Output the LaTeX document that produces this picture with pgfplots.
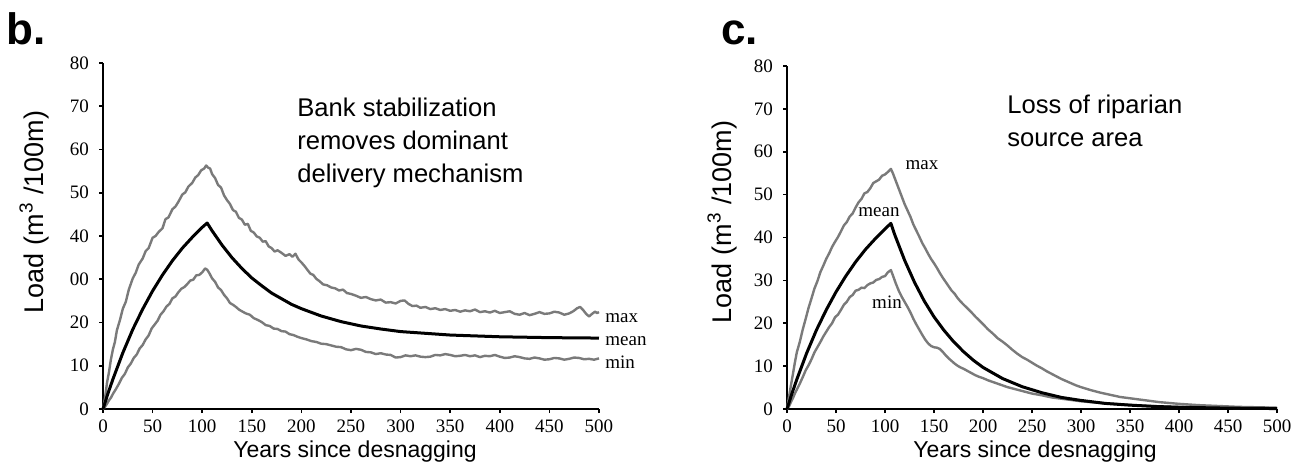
\documentclass[border=0pt]{standalone}
\usepackage{fontspec}
\setmainfont{Liberation Sans}
\newfontfamily\serif{Liberation Serif}
\usepackage{pgfplots}
\pgfplotsset{compat=1.18}
\definecolor{ln}{RGB}{122,122,122}

\pgfplotsset{
  panel/.style={
    scale only axis,
    axis lines=left,
    axis line style={line width=1.2pt,-},
    xmin=0, xmax=500, ymin=0, ymax=80,
    xtick={0,50,...,500}, ytick={0,10,...,80},
    tick align=outside, major tick length=2pt,
    tick style={line width=0.8pt,black},
    ticklabel style={font=\serif\fontsize{9.5}{10}\selectfont},
    yticklabel style={xshift=-1.5pt},
    /pgf/number format/assume math mode=true,
    clip=false,
  },
  band/.style={ln, line width=1.2pt, line join=round},
  avg/.style={black, line width=1.5pt, line join=round},
}

\begin{document}
\begin{tikzpicture}
\useasboundingbox (0,0) rectangle (653pt,-235pt);

% panel b
\begin{axis}[panel, width=248pt, height=173pt, at={(51.5pt,-204.5pt)}, anchor=south west,
  yticklabels={\raisebox{-4pt}{0},10,20,00,40,50,60,70,80}]
\addplot[band] coordinates {(0,0)(2,2.5)(4,6)(6,8.5)(8,11.5)(10,13.8)(12,15.5)(14,18.2)(17,20.5)(20,23.2)(23,24.8)(26,27.6)(30,30.2)(33,31.5)(36,33.4)(40,34.8)(43,36.5)(46,37.2)(50,39.6)(53,40.0)(56,40.9)(60,41.8)(63,43.9)(66,44.3)(70,46.2)(73,46.8)(76,47.9)(80,49.6)(83,50.1)(86,51.4)(90,52.3)(93,53.5)(96,54.1)(99,55.2)(102,55.6)(104,56.3)(106,55.8)(108,55.6)(110,54.3)(113,53.4)(116,51.8)(119,51.2)(122,49.4)(125,48.3)(128,47.4)(131,46.0)(134,45.6)(137,44.2)(140,43.8)(143,42.6)(146,42.8)(149,41.2)(152,40.8)(155,39.9)(158,39.6)(161,38.7)(164,38.8)(167,37.6)(170,37.2)(173,36.4)(176,36.7)(180,36.1)(184,35.4)(188,35.8)(191,35.2)(194,35.9)(197,34.6)(200,33.9)(203,33.1)(206,32.2)(209,31.3)(212,31.0)(215,30.1)(218,29.6)(222,28.8)(226,28.6)(230,28.1)(234,27.9)(238,27.4)(242,27.6)(246,26.8)(250,26.6)(255,26.2)(260,25.7)(265,25.9)(270,25.4)(275,25.1)(280,25.3)(285,24.6)(290,24.7)(295,24.4)(300,25.0)(304,25.1)(308,24.3)(312,23.8)(316,23.9)(320,23.4)(325,23.6)(330,23.1)(335,23.3)(340,22.9)(345,23.1)(350,22.7)(355,22.9)(360,22.5)(365,22.8)(370,22.6)(375,23.0)(380,22.4)(385,22.6)(390,22.3)(395,22.7)(400,22.2)(405,22.4)(410,22.6)(415,22.0)(420,21.8)(425,22.2)(430,21.7)(435,22.0)(440,22.4)(445,22.0)(450,22.1)(455,22.5)(460,22.3)(465,21.8)(470,22.1)(474,22.6)(478,23.3)(481,23.6)(484,22.9)(487,22.0)(490,21.4)(493,22.0)(496,22.5)(498,22.2)(500,22.4)};
\addplot[band] coordinates {(0,0)(2,0.5)(4,1.2)(6,2.0)(8,2.6)(10,3.5)(13,4.6)(16,5.8)(19,7.2)(22,8.1)(25,9.6)(28,10.5)(31,11.8)(34,12.6)(37,14.0)(40,14.8)(43,16.1)(46,17.0)(49,18.6)(52,19.5)(55,20.4)(58,21.8)(61,22.6)(64,23.7)(67,24.3)(70,25.6)(73,26.0)(76,27.0)(79,27.8)(82,28.2)(85,28.9)(88,29.7)(91,29.9)(94,30.9)(97,31.0)(100,31.6)(103,32.5)(105,32.2)(107,31.5)(110,30.2)(113,29.4)(116,28.1)(119,27.5)(122,26.4)(125,25.6)(128,24.5)(131,24.1)(134,23.6)(137,23.0)(140,22.6)(144,22.1)(148,21.8)(152,21.0)(156,20.6)(160,20.1)(164,19.4)(168,19.2)(172,18.6)(176,18.5)(180,18.0)(184,17.9)(188,17.3)(192,17.1)(196,16.7)(200,16.4)(205,16.1)(210,15.7)(215,15.5)(220,15.1)(225,15.0)(230,14.7)(235,14.4)(240,14.3)(245,13.8)(250,13.6)(255,13.9)(260,13.7)(265,13.2)(270,13.1)(275,12.7)(280,12.9)(285,12.6)(290,12.5)(295,11.9)(300,12.0)(305,12.4)(310,12.2)(315,12.4)(320,12.1)(325,12.0)(330,12.1)(335,12.5)(340,12.4)(345,12.7)(350,12.5)(355,12.2)(360,12.3)(365,12.5)(370,12.2)(375,12.4)(380,12.0)(385,12.3)(390,12.2)(395,12.5)(400,12.1)(405,11.8)(410,11.9)(415,12.2)(420,12.0)(425,11.7)(430,11.6)(435,11.9)(440,11.7)(445,11.4)(450,11.5)(455,11.8)(460,11.7)(465,11.4)(470,11.6)(475,11.9)(480,11.8)(485,11.5)(490,11.6)(495,11.4)(500,11.7)};
\addplot[avg] coordinates {(0,0)(5,3.6)(10,6.9)(20,13.0)(30,18.4)(40,23.1)(50,27.3)(60,31.0)(70,34.3)(80,37.2)(90,39.7)(100,42.0)(105,43.0)(110,41.2)(120,37.9)(130,35.0)(140,32.5)(150,30.3)(160,28.5)(170,26.8)(180,25.5)(190,24.2)(200,23.2)(220,21.5)(240,20.2)(260,19.2)(280,18.5)(300,17.9)(325,17.5)(350,17.1)(375,16.9)(400,16.7)(450,16.5)(500,16.4)};
\end{axis}

% panel c
\begin{axis}[panel, width=245pt, height=171.5pt, at={(393.5pt,-204.5pt)}, anchor=south west]
\addplot[band] coordinates {(0,0)(2,2.8)(4,5.5)(6,8.1)(8,10.8)(10,13.2)(13,15.6)(16,18.5)(19,21.0)(22,23.6)(25,25.8)(28,28.1)(31,29.8)(34,31.9)(37,33.4)(40,35.0)(43,36.3)(46,37.8)(49,39.0)(52,40.1)(55,41.4)(58,42.8)(61,43.6)(64,44.9)(67,45.6)(70,47.0)(73,48.2)(76,49.0)(79,50.3)(82,50.6)(85,51.5)(88,52.7)(91,53.1)(94,53.5)(97,54.4)(100,54.7)(103,55.3)(106,56.0)(108,55.0)(111,53.2)(114,51.4)(117,49.6)(120,47.8)(123,46.3)(126,44.8)(129,43.0)(132,41.6)(135,40.2)(138,38.7)(141,37.5)(144,36.2)(147,35.0)(150,34.0)(153,32.9)(156,31.7)(159,30.6)(162,29.6)(165,28.6)(168,27.6)(171,26.9)(174,25.9)(177,25.1)(180,24.4)(184,23.5)(188,22.6)(192,21.6)(196,20.7)(200,19.8)(205,18.6)(210,17.6)(215,16.5)(220,15.7)(225,14.8)(230,13.8)(235,12.9)(240,12.1)(245,11.5)(250,10.8)(255,10.1)(260,9.5)(265,8.8)(270,8.2)(275,7.6)(280,7.0)(285,6.5)(290,6.0)(295,5.5)(300,5.1)(310,4.4)(320,3.8)(330,3.3)(340,2.8)(350,2.5)(360,2.2)(370,1.9)(380,1.6)(390,1.4)(400,1.2)(420,0.9)(440,0.7)(460,0.5)(480,0.4)(500,0.3)};
\addplot[band] coordinates {(0,0)(2,0.6)(4,1.6)(6,2.5)(8,3.6)(10,4.5)(13,5.9)(16,7.4)(19,9.0)(22,10.2)(25,11.6)(28,13.2)(31,14.4)(34,15.6)(37,16.9)(40,18.0)(43,19.1)(46,20.0)(49,21.4)(52,22.0)(55,23.1)(58,24.3)(61,25.0)(64,26.1)(67,26.6)(70,27.6)(73,27.8)(76,28.3)(79,28.2)(82,28.9)(85,29.3)(88,29.5)(91,30.1)(94,30.3)(97,30.8)(100,31.0)(103,31.9)(106,32.4)(108,31.2)(111,29.3)(114,27.6)(117,26.2)(120,25.0)(123,23.8)(126,22.5)(129,21.0)(132,19.7)(135,18.5)(138,17.3)(141,16.2)(144,15.3)(147,14.7)(150,14.4)(153,14.3)(156,14.0)(159,13.3)(162,12.5)(165,11.8)(168,11.2)(171,10.6)(174,10.1)(177,9.7)(180,9.4)(184,8.9)(188,8.4)(192,7.9)(196,7.5)(200,7.2)(205,6.7)(210,6.3)(215,5.9)(220,5.5)(225,5.1)(230,4.8)(235,4.5)(240,4.2)(250,3.6)(260,3.2)(270,2.7)(280,2.4)(290,2.1)(300,1.8)(320,1.4)(340,1.1)(360,0.8)(380,0.6)(400,0.5)(450,0.3)(500,0.1)};
\addplot[avg] coordinates {(0,0)(5,3.6)(10,6.9)(20,13.0)(30,18.4)(40,23.1)(50,27.3)(60,31.0)(70,34.3)(80,37.2)(90,39.7)(100,42.0)(106,43.3)(110,40.6)(120,34.7)(130,29.6)(140,25.2)(150,21.5)(160,18.4)(170,15.7)(180,13.4)(190,11.4)(200,9.7)(220,7.1)(240,5.2)(260,3.8)(280,2.7)(300,2.0)(325,1.3)(350,0.9)(375,0.6)(400,0.4)(450,0.2)(500,0.1)};
\end{axis}

\begin{scope}[x=0.5pt,y=-0.5pt]
\node[anchor=base west, inner sep=0pt, font=\bfseries\fontsize{22}{22}\selectfont] at (6,45) {b.};
\node[anchor=base west, inner sep=0pt, font=\bfseries\fontsize{22}{22}\selectfont] at (721,45) {c.};
\node[rotate=90, font=\fontsize{13.5}{15}\selectfont] at (34,212) {Load (m\textsuperscript{3} /100m)};
\node[rotate=90, font=\fontsize{13.5}{15}\selectfont] at (722,222) {Load (m\textsuperscript{3} /100m)};
\node[font=\fontsize{11.5}{13}\selectfont] at (355,452) {Years since desnagging};
\node[font=\fontsize{11.5}{13}\selectfont] at (1035,452) {Years since desnagging};
\node[anchor=west, align=left, inner sep=0pt, font=\fontsize{12.8}{16.5}\selectfont] at (297,143) {Bank stabilization\\removes dominant\\delivery mechanism};
\node[anchor=west, align=left, inner sep=0pt, font=\fontsize{12.8}{16.5}\selectfont] at (1007,121) {Loss of riparian\\source area};
\node[anchor=west, inner sep=0pt, font=\serif\fontsize{9.5}{10}\selectfont] at (605,318) {max};
\node[anchor=west, inner sep=0pt, font=\serif\fontsize{9.5}{10}\selectfont] at (605,341) {mean};
\node[anchor=west, inner sep=0pt, font=\serif\fontsize{9.5}{10}\selectfont] at (605,362) {min};
\node[inner sep=0pt, font=\serif\fontsize{9.5}{10}\selectfont] at (922,165) {max};
\node[inner sep=0pt, font=\serif\fontsize{9.5}{10}\selectfont] at (879,212) {mean};
\node[inner sep=0pt, font=\serif\fontsize{9.5}{10}\selectfont] at (887,302) {min};
\end{scope}
\end{tikzpicture}
\end{document}
